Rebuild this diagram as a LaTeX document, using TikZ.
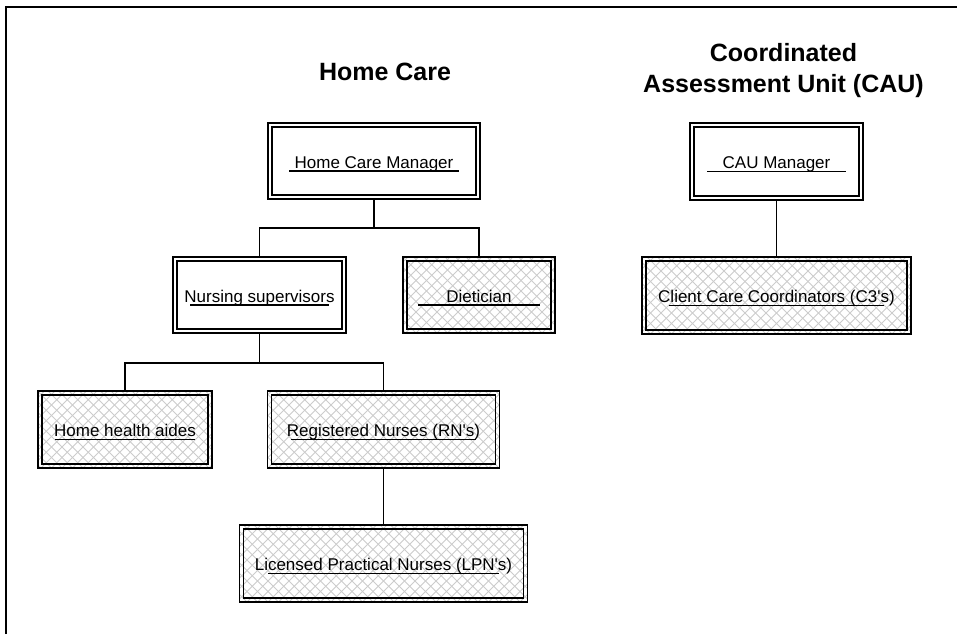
\documentclass[tikz,border=0pt]{standalone}
\usepackage{fontspec}
\setmainfont{Liberation Sans}
\usetikzlibrary{calc}
\newcommand\myhatch{%
  \foreach \k in {-30,...,30}{%
    \draw[hatchline] ([xshift=\k*10.5pt]path picture bounding box.south) -- ++(120pt,120pt);
    \draw[hatchline] ([xshift=\k*10.5pt]path picture bounding box.south) -- ++(-120pt,120pt);
  }}
\newcommand\mydeco{%
  \draw[line width=1.1pt] ([shift={(4pt,4pt)}]path picture bounding box.south west) rectangle ([shift={(-4pt,-4pt)}]path picture bounding box.north east);
  \draw[line width=1.1pt] ($(path picture bounding box.west)!0.1!(path picture bounding box.east)+(0,-10pt)$) -- ($(path picture bounding box.west)!0.9!(path picture bounding box.east)+(0,-10pt)$);
}
\tikzset{
  hatchline/.style={draw=black!20, line width=0.9pt},
  orgbox/.style={draw=black, line width=1.8pt, fill=white, inner sep=0pt,
    text height=14pt, text depth=0pt, font=\fontsize{17}{20}\selectfont,
    path picture={\mydeco}},
  hatchbox/.style={orgbox, path picture={\myhatch\mydeco}},
  conn/.style={draw=black, line width=1.3pt},
  titletext/.style={font=\fontsize{25}{30}\selectfont\bfseries, align=center, inner sep=0pt}
}
\begin{document}
\begin{tikzpicture}[x=1pt,y=-1pt]
\useasboundingbox (0,0) rectangle (957,634);
\draw[line width=1.5pt] (6,634) -- (6,7) -- (957,7);

\node[titletext, anchor=base] (t1) at (385,80) {Home Care};
\node[titletext, anchor=base] (t2) at (783.5,92) {Coordinated\\Assessment Unit (CAU)};

\node[orgbox, minimum width=212pt, minimum height=76pt] (hcm) at (374,161) {Home Care Manager};
\node[orgbox, minimum width=173pt, minimum height=76pt] (ns) at (259.5,295) {Nursing supervisors};
\node[hatchbox, minimum width=152pt, minimum height=76pt] (diet) at (479,295) {Dietician};
\node[hatchbox, minimum width=174pt, minimum height=77pt] (hha) at (125,429.5) {Home health aides};
\node[hatchbox, minimum width=232pt, minimum height=77pt] (rn) at (383.5,429.5) {Registered Nurses (RN\textquotesingle s)};
\node[hatchbox, minimum width=288pt, minimum height=77pt] (lpn) at (383.5,563.5) {Licensed Practical Nurses (LPN\textquotesingle s)};
\node[orgbox, minimum width=173pt, minimum height=77pt] (caum) at (776.5,161.5) {CAU Manager};
\node[hatchbox, minimum width=269pt, minimum height=77pt] (c3) at (776.5,295.5) {Client Care Coordinators (C3\textquotesingle s)};

\coordinate (j1) at (374,228);
\coordinate (j2) at (259.5,363);
\draw[conn] (hcm.south) -- (j1);
\draw[conn] (ns.north) |- (j1) -| (diet.north);
\draw[conn] (ns.south) -- (j2);
\draw[conn] (hha.north) |- (j2) -| (rn.north);
\draw[conn] (rn.south) -- (lpn.north);
\draw[conn] (caum.south) -- (c3.north);
\end{tikzpicture}
\end{document}
